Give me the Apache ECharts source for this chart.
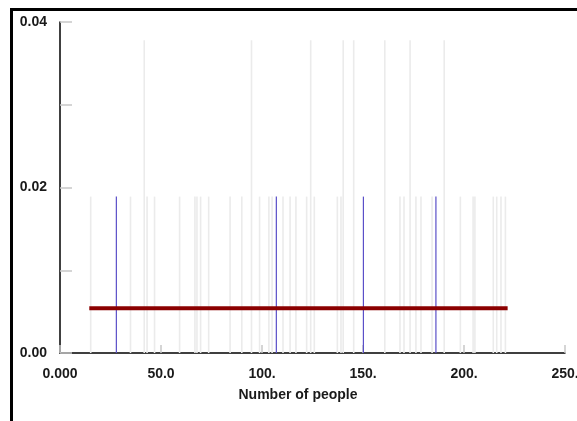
<!DOCTYPE html>
<html>
<head>
<meta charset="utf-8">
<script src="https://cdn.jsdelivr.net/npm/echarts@6/dist/echarts.min.js"></script>
<style>
html,body{margin:0;padding:0;background:#fff;}
#chart{width:577px;height:421px;}
</style>
</head>
<body>
<div id="chart"></div>
<script>
// ---- data ----
const singleRug = [15.2, 34.9, 43.1, 46.8, 59.2, 66.8, 67.8, 69.6, 73.6, 84.2, 90.0, 98.8, 103.4, 105.0, 110.4, 113.9, 116.8, 122.1, 125.9, 137.3, 139.1, 168.3, 170.3, 176.2, 178.7, 184.2, 198.2, 204.5, 205.4, 214.5, 216.2, 218.3, 220.5];
const doubleRug = [41.7, 94.8, 124.1, 140.2, 145.4, 160.8, 173.3, 190.2];
const rugUnit = 0.0189;
const quartileLines = [27.9, 107.1, 150.2, 186.1];
const densityLevel = 0.0054;
const densityRange = [14.5, 221.6];
const xTickLabels = ['0.000', '50.0', '100.', '150.', '200.', '250.'];
const yTickLabels = ['0.00', '', '0.02', '', '0.04'];

const FONT = "'Liberation Sans',Arial,sans-serif";

const rugData = singleRug.map(v => [v, rugUnit]).concat(doubleRug.map(v => [v, 2 * rugUnit]));
const quartData = quartileLines.map(v => [v, rugUnit]);

function vline(color, width) {
  return function (params, api) {
    const p0 = api.coord([api.value(0), 0]);
    const p1 = api.coord([api.value(0), api.value(1)]);
    return {
      type: 'line',
      shape: { x1: p0[0], y1: p0[1], x2: p1[0], y2: p1[1] },
      style: { stroke: color, lineWidth: width }
    };
  };
}

const chart = echarts.init(document.getElementById('chart'), null, { renderer: 'canvas' });
chart.setOption({
  animation: false,
  backgroundColor: '#fff',
  graphic: [{
    type: 'rect',
    shape: { x: 11.5, y: 9.5, width: 700, height: 600 },
    style: { fill: 'none', stroke: '#000', lineWidth: 3 },
    silent: true, z: 100
  }],
  grid: { left: 60, right: 12, top: 22, bottom: 68, containLabel: false, outerBoundsMode: 'none' },
  xAxis: {
    type: 'value', min: 0, max: 250, interval: 50,
    axisLine: { show: true, lineStyle: { color: '#000', width: 1.5 } },
    axisTick: { show: true, inside: true, length: 8, lineStyle: { color: '#c8c8c8', width: 1.5 } },
    splitLine: { show: false },
    axisLabel: {
      margin: 14, color: '#1a1a1a', fontFamily: FONT, fontWeight: 'bold', fontSize: 14,
      formatter: v => xTickLabels[Math.round(v / 50)]
    },
    name: 'Number of people', nameLocation: 'middle', nameGap: 35,
    nameTextStyle: { color: '#1a1a1a', fontFamily: FONT, fontWeight: 'bold', fontSize: 14, padding: [0, 29, 0, 0] }
  },
  yAxis: {
    type: 'value', min: 0, max: 0.04, interval: 0.01,
    axisLine: { show: true, lineStyle: { color: '#000', width: 1.5 } },
    axisTick: { show: true, inside: true, length: 12, lineStyle: { color: '#c8c8c8', width: 1.5 } },
    splitLine: { show: false },
    axisLabel: {
      margin: 13, color: '#1a1a1a', fontFamily: FONT, fontWeight: 'bold', fontSize: 14,
      formatter: v => yTickLabels[Math.round(v / 0.01)]
    }
  },
  series: [
    { type: 'custom', data: rugData, renderItem: vline('#ebebeb', 1.6), silent: true, z: 1, clip: true },
    { type: 'custom', data: quartData, renderItem: vline('#5a4fc8', 1.2), silent: true, z: 2, clip: true },
    {
      type: 'line', data: [[densityRange[0], densityLevel], [densityRange[1], densityLevel]],
      symbol: 'none', lineStyle: { color: '#8b0000', width: 4 }, z: 3, silent: true
    }
  ]
});
</script>
</body>
</html>
